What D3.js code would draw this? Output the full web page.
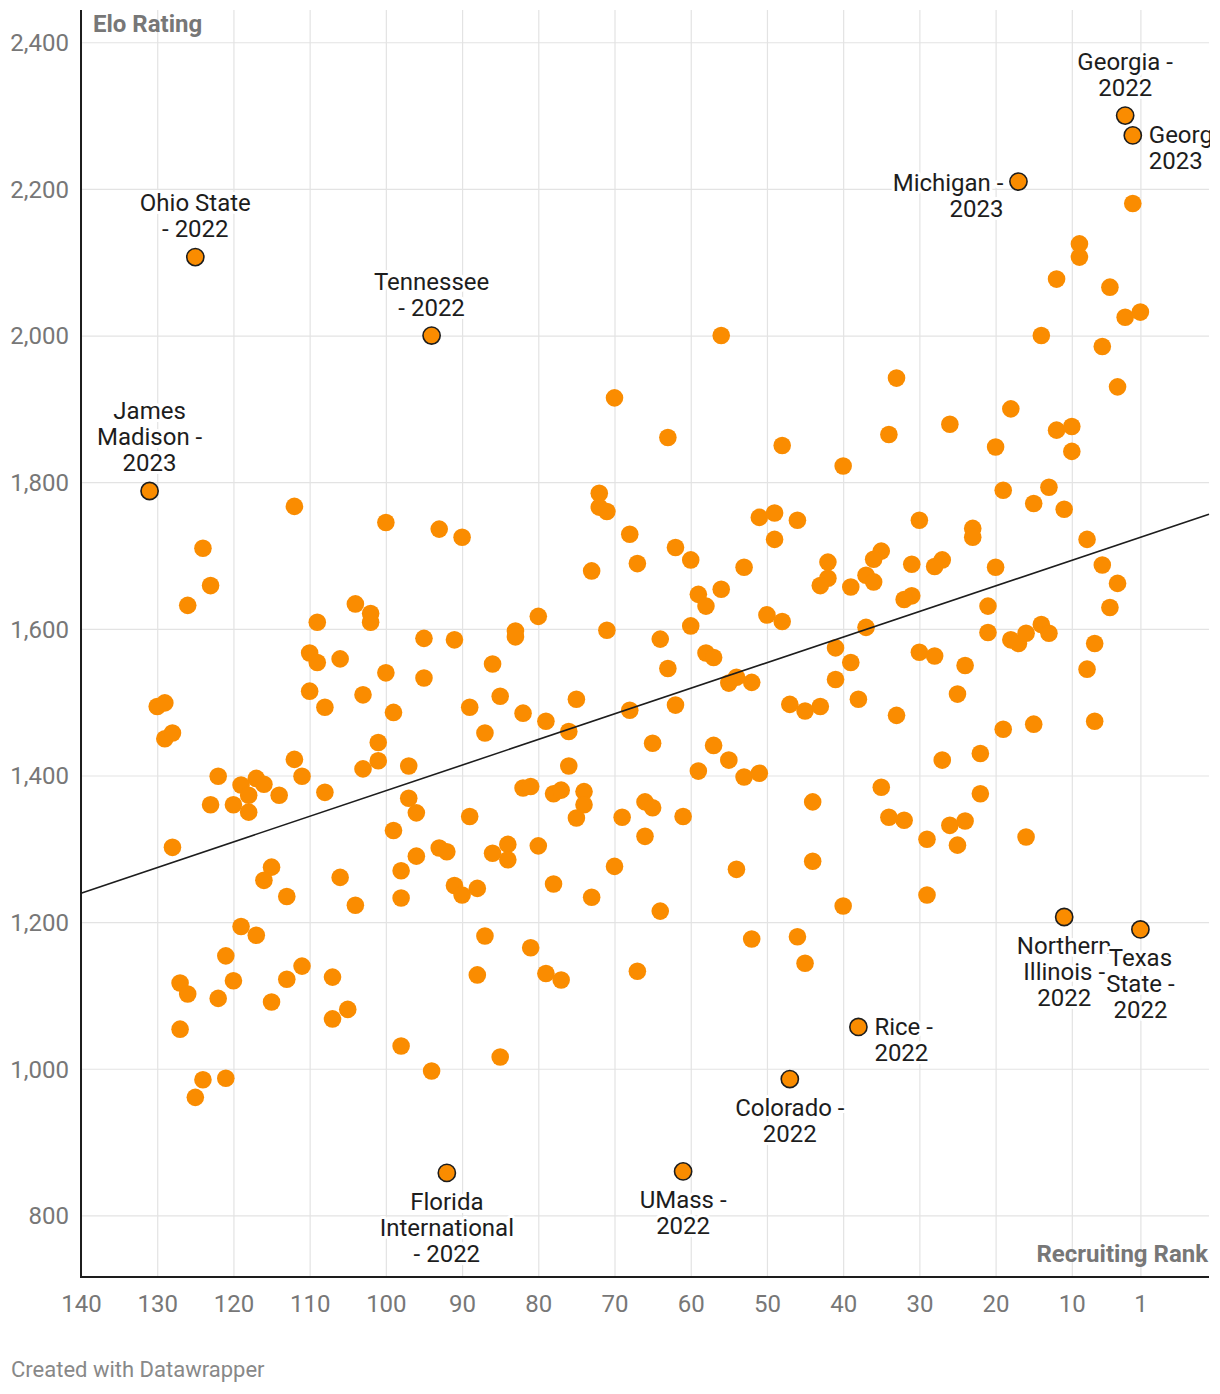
<!DOCTYPE html>
<html><head><meta charset="utf-8">
<script src="https://cdn.jsdelivr.net/npm/d3@7"></script>
<style>
body{margin:0;background:#fff;}
text{font-family:Roboto,"Noto Sans",sans-serif;}
</style>
</head><body>
<svg id="chart" width="1220" height="1394"></svg>
<script>
// ---- data ----
const ranks = [
112,100,93,90,124,123,126,104,102,102,109,95,91,110,109,106,
130,129,129,128,128,122,123,120,119,117,116,118,118,114,112,111,108,110,108,103,100,95,99,101,101,103,97,97,96,99,93,92,96,98,98,91,90,104,106,115,116,113,119,117,121,
127,126,122,120,115,113,111,107,105,107,127,124,121,125,98,94,
56,70,63,48,72,72,71,68,62,60,67,73,51,49,46,49,53,59,58,56,50,48,60,80,83,83,71,64,
2,9,9,12,5,3,1,14,6,33,4,18,34,26,20,12,10,10,40,19,13,15,11,30,23,23,8,42,35,36,31,27,28,20,6,42,43,37,36,39,31,32,4,21,5,37,21,18,17,16,14,13,7,41,39,30,28,24,
86,89,85,87,82,79,75,76,76,68,63,62,65,58,57,55,54,52,57,59,55,53,51,47,45,43,41,82,81,78,77,74,74,75,89,69,66,65,66,61,44,86,84,84,80,70,54,44,88,78,73,64,87,81,52,46,45,88,79,77,67,85,
38,25,33,27,22,19,15,8,7,35,34,32,29,26,24,25,22,16,29,40
];
const elos = [
1767,1745,1736,1725,1710,1659,1632,1634,1621,1609,1609,1587,1585,1567,1554,1559,
1494,1499,1450,1458,1302,1399,1360,1360,1387,1396,1388,1373,1350,1373,1422,1399,1377,1515,1493,1510,1540,1533,1486,1445,1420,1409,1413,1369,1349,1325,1301,1296,1290,1270,1233,1250,1237,1223,1261,1275,1257,1235,1194,1182,1154,
1117,1102,1096,1120,1091,1122,1140,1125,1081,1068,1054,985,987,961,1031,997,
2000,1915,1861,1850,1785,1766,1760,1729,1711,1694,1689,1679,1752,1758,1748,1722,1684,1647,1631,1654,1619,1610,1604,1617,1597,1589,1598,1586,
2180,2125,2107,2077,2066,2025,2032,2000,1985,1942,1930,1900,1865,1879,1848,1871,1876,1842,1822,1789,1793,1771,1763,1748,1737,1725,1722,1691,1706,1695,1688,1694,1685,1684,1687,1669,1659,1673,1664,1657,1645,1640,1662,1631,1629,1602,1595,1585,1580,1594,1606,1594,1580,1574,1554,1568,1563,1550,
1552,1493,1508,1458,1485,1474,1504,1460,1413,1489,1546,1496,1444,1567,1561,1526,1534,1527,1441,1406,1421,1398,1403,1497,1488,1494,1531,1383,1385,1375,1380,1378,1360,1342,1344,1343,1364,1356,1317,1344,1364,1294,1306,1285,1304,1276,1272,1283,1246,1252,1234,1215,1181,1165,1177,1180,1144,1128,1130,1121,1133,1016,
1504,1511,1482,1421,1430,1463,1470,1545,1474,1384,1343,1339,1313,1332,1338,1305,1375,1316,1237,1222
];

const hlRanks = [3, 2, 17, 125, 94, 131, 11, 1, 38, 47, 61, 92];
const hlElos  = [2300, 2273, 2210, 2107, 2000, 1788, 1207, 1190, 1057, 986, 860, 858];
const hlLabels = [
  ["Georgia -","2022"],
  ["Georgia -","2023"],
  ["Michigan -","2023"],
  ["Ohio State","- 2022"],
  ["Tennessee","- 2022"],
  ["James","Madison -","2023"],
  ["Northern","Illinois -","2022"],
  ["Texas","State -","2022"],
  ["Rice -","2022"],
  ["Colorado -","2022"],
  ["UMass -","2022"],
  ["Florida","International","- 2022"]
];
const hlPlacement = ["above","right","left","above","above","above","below","below","right","below","below","below"];

const xTicks = [140,130,120,110,100,90,80,70,60,50,40,30,20,10,1];
const yTicks = [800,1000,1200,1400,1600,1800,2000,2200,2400];
const xDomain = [140,-8];
const yDomain = [716,2444];
const trendSlope = -3.492;
const trendIntercept = 1728.4;

// ---- layout ----
const L = 81, R = 1209, T = 10, B = 1277;
const FS = 24;
const svg = d3.select("#chart");
const x = d3.scaleLinear().domain(xDomain).range([L, R]);
const y = d3.scaleLinear().domain(yDomain).range([B, T]);

const ORANGE = "#fa8c00";
const GRID = "#e3e3e3";
const TICKC = "#777";

// y grid + labels
const gy = svg.append("g").attr("transform", `translate(${L},0)`)
  .call(d3.axisLeft(y).tickValues(yTicks).tickSize(-(R-L)).tickPadding(12).tickFormat(d3.format(",")));
gy.select(".domain").remove();
gy.selectAll(".tick line").attr("stroke", GRID).attr("stroke-width", 1.2);
gy.selectAll(".tick text").attr("fill", TICKC).attr("font-size", FS).attr("dy", "0.35em")
  .style("font-family","Roboto");

// x grid + labels
const gx = svg.append("g").attr("transform", `translate(0,${B})`)
  .call(d3.axisBottom(x).tickValues(xTicks).tickSize(-(B-T)).tickPadding(18).tickFormat(d3.format("d")));
gx.select(".domain").remove();
gx.selectAll(".tick line").attr("stroke", GRID).attr("stroke-width", 1.2);
gx.selectAll(".tick text").attr("fill", TICKC).attr("font-size", FS).style("font-family","Roboto");

// axis lines
svg.append("line").attr("x1", L).attr("x2", L).attr("y1", T).attr("y2", B+1)
  .attr("stroke", "#1d1d1d").attr("stroke-width", 2);
svg.append("line").attr("x1", L-1).attr("x2", R).attr("y1", B).attr("y2", B)
  .attr("stroke", "#1d1d1d").attr("stroke-width", 2);

// axis titles
svg.append("text").attr("x", 93).attr("y", 32).text("Elo Rating")
  .attr("font-size", FS).attr("font-weight", 700).attr("fill", "#777");
svg.append("text").attr("x", 1208).attr("y", 1262).attr("text-anchor", "end").text("Recruiting Rank")
  .attr("font-size", FS).attr("font-weight", 700).attr("fill", "#777");

// regular dots
const pts = ranks.map((r, i) => ({r, e: elos[i]}));
svg.append("g").selectAll("circle").data(pts).join("circle")
  .attr("cx", d => x(d.r)).attr("cy", d => y(d.e)).attr("r", 8.8)
  .attr("fill", ORANGE);

// trend line
const trend = xDomain.map(r => ({r, e: trendIntercept + trendSlope * r}));
svg.append("path").datum(trend)
  .attr("d", d3.line().x(d => x(d.r)).y(d => y(d.e)))
  .attr("stroke", "#1d1d1d").attr("stroke-width", 1.6).attr("fill", "none");

// highlighted dots
const hl = hlRanks.map((r, i) => ({r, e: hlElos[i], lines: hlLabels[i], p: hlPlacement[i]}));
svg.append("g").selectAll("circle").data(hl).join("circle")
  .attr("cx", d => x(d.r)).attr("cy", d => y(d.e)).attr("r", 8.6)
  .attr("fill", ORANGE).attr("stroke", "#1d1d1d").attr("stroke-width", 1.6);

// labels (clipped at the chart's right edge, like the reference)
svg.append("clipPath").attr("id", "clip").append("rect")
  .attr("x", 0).attr("y", 0).attr("width", R + 1).attr("height", 1394);
const lg = svg.append("g").attr("clip-path", "url(#clip)");
const LH = 26;
hl.forEach(d => {
  const cx = x(d.r), cy = y(d.e);
  const n = d.lines.length;
  let tx = cx, anchor = "middle", y0;
  if (d.p === "above") { y0 = cy - 20 - (n - 1) * LH; }
  else if (d.p === "below") { y0 = cy + 37; }
  else if (d.p === "right") { tx = cx + 16; anchor = "start"; y0 = cy + 8; }
  else { tx = cx - 15; anchor = "end"; y0 = cy + 9; }
  const g = lg.append("g");
  d.lines.forEach((ln, i) => {
    g.append("text").attr("x", tx).attr("y", y0 + i * LH)
      .attr("text-anchor", anchor).attr("font-size", FS)
      .attr("fill", "none").attr("stroke", "#fff").attr("stroke-width", 6)
      .attr("stroke-linejoin", "round").text(ln);
  });
  d.lines.forEach((ln, i) => {
    g.append("text").attr("x", tx).attr("y", y0 + i * LH)
      .attr("text-anchor", anchor).attr("font-size", FS)
      .attr("fill", "#1d1d1d").text(ln);
  });
});

// footer
svg.append("text").attr("x", 11).attr("y", 1377).text("Created with Datawrapper")
  .attr("font-size", 22).attr("fill", "#888");
</script>
</body></html>
